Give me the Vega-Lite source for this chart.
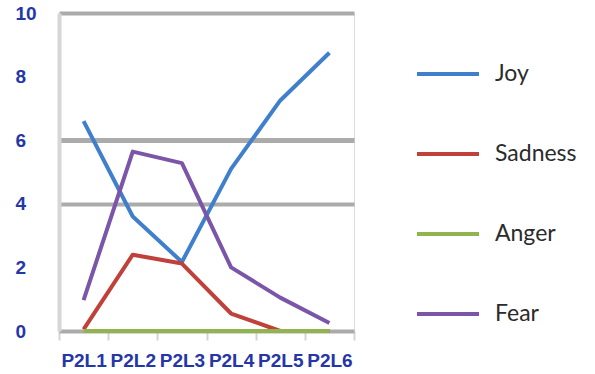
{
  "$schema": "https://vega.github.io/schema/vega-lite/v6.json",
  "width": 295,
  "height": 318,
  "autosize": "none",
  "padding": {"left": 59, "top": 13, "right": 241, "bottom": 43},
  "background": "white",
  "data": {
    "values": [
      {"level": "P2L1", "emotion": "Joy", "value": 6.6},
      {"level": "P2L2", "emotion": "Joy", "value": 3.6},
      {"level": "P2L3", "emotion": "Joy", "value": 2.17},
      {"level": "P2L4", "emotion": "Joy", "value": 5.1},
      {"level": "P2L5", "emotion": "Joy", "value": 7.25},
      {"level": "P2L6", "emotion": "Joy", "value": 8.75},
      {"level": "P2L1", "emotion": "Sadness", "value": 0.05},
      {"level": "P2L2", "emotion": "Sadness", "value": 2.4},
      {"level": "P2L3", "emotion": "Sadness", "value": 2.12},
      {"level": "P2L4", "emotion": "Sadness", "value": 0.55},
      {"level": "P2L5", "emotion": "Sadness", "value": 0},
      {"level": "P2L6", "emotion": "Sadness", "value": 0},
      {"level": "P2L1", "emotion": "Anger", "value": 0},
      {"level": "P2L2", "emotion": "Anger", "value": 0},
      {"level": "P2L3", "emotion": "Anger", "value": 0},
      {"level": "P2L4", "emotion": "Anger", "value": 0},
      {"level": "P2L5", "emotion": "Anger", "value": 0},
      {"level": "P2L6", "emotion": "Anger", "value": 0},
      {"level": "P2L1", "emotion": "Fear", "value": 0.97},
      {"level": "P2L2", "emotion": "Fear", "value": 5.64},
      {"level": "P2L3", "emotion": "Fear", "value": 5.28},
      {"level": "P2L4", "emotion": "Fear", "value": 2.0},
      {"level": "P2L5", "emotion": "Fear", "value": 1.05},
      {"level": "P2L6", "emotion": "Fear", "value": 0.25}
    ]
  },
  "mark": {"type": "line", "strokeWidth": 4, "strokeJoin": "round", "clip": false},
  "encoding": {
    "x": {
      "field": "level",
      "type": "nominal",
      "sort": null,
      "scale": {"type": "band", "paddingInner": 0, "paddingOuter": 0},
      "axis": {
        "title": null,
        "labelAngle": 0,
        "labelFont": "Liberation Sans",
        "labelFontWeight": "bold",
        "labelFontSize": 19,
        "labelColor": "#2536a8",
        "labelPadding": 11,
        "labelOverlap": false,
        "labelBaseline": "top",
        "tickBand": "extent",
        "tickColor": "#d4d4d4",
        "tickSize": 9,
        "tickWidth": 2,
        "domainColor": "#ababab",
        "domainWidth": 4,
        "grid": false
      }
    },
    "y": {
      "field": "value",
      "type": "quantitative",
      "scale": {"domain": [0, 10], "nice": false},
      "axis": {
        "title": null,
        "values": [0, 2, 4, 6, 8, 10],
        "labelFont": "Liberation Sans",
        "labelFontWeight": "bold",
        "labelFontSize": 19,
        "labelColor": "#2536a8",
        "labelAlign": "left",
        "labelPadding": 44,
        "ticks": false,
        "tickSize": 0,
        "domainColor": "#d6d6d6",
        "domainWidth": 4,
        "grid": true,
        "gridColor": "#ababab",
        "gridOpacity": {"condition": {"test": "datum.value == 4 || datum.value == 6 || datum.value == 10", "value": 1}, "value": 0},
        "gridWidth": {"condition": {"test": "datum.value == 6", "value": 5}, "value": 4}
      }
    },
    "color": {
      "field": "emotion",
      "type": "nominal",
      "sort": ["Joy", "Sadness", "Anger", "Fear"],
      "scale": {
        "domain": ["Joy", "Sadness", "Anger", "Fear"],
        "range": ["#3f7fcc", "#c0403a", "#91b44e", "#7b55a8"]
      },
      "legend": {
        "title": null,
        "orient": "none",
        "legendX": 356,
        "legendY": 28,
        "padding": 0,
        "symbolType": "stroke",
        "symbolSize": 3844,
        "symbolStrokeWidth": 4,
        "labelFont": "Lato",
        "labelFontSize": 23,
        "labelColor": "#2b2b2b",
        "labelOffset": 14,
        "rowPadding": 35,
        "labelLimit": 200
      }
    }
  }
}
